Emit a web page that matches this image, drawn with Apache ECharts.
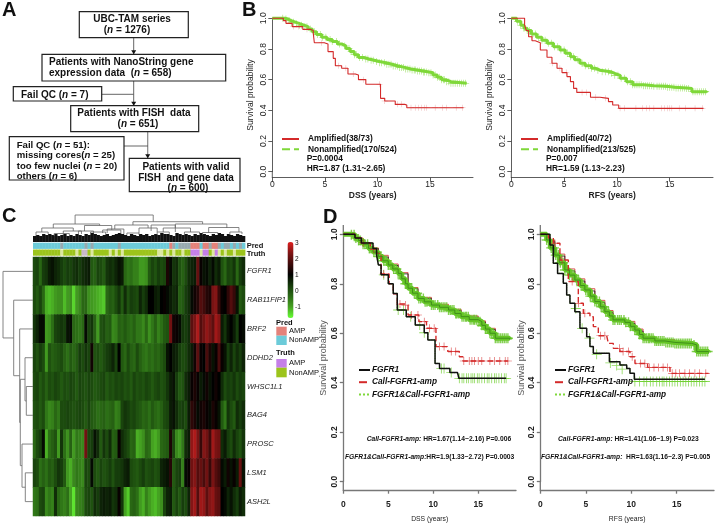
<!DOCTYPE html>
<html><head><meta charset="utf-8">
<style>html,body{margin:0;background:#fff}#c{width:717px;height:528px;filter:blur(.5px)}</style>
<script src="https://cdn.jsdelivr.net/npm/echarts@6/dist/echarts.min.js"></script>
</head><body><div id="c"></div>
<script>
const FF='Liberation Sans', NF='Liberation Sans';
const C_RED='#d42a2a',C_GRN='#7fd83a',C_BLK='#111';

/* ---- Panel B, DSS ---- */
const b1Amp=[[0,1],[1.05,.985],[1.3,.967],[1.9,.946],[2.9,.928],[3.6,.92],[3.9,.902],[4,.841],[4.95,.833],[5.3,.783],[5.8,.739],[6,.691],[6.6,.674],[7.2,.637],[7.9,.63],[8.2,.6],[8.9,.57],[10.3,.478],[10.7,.461],[11.7,.439],[12.6,.435],[12.8,.417],[18.2,.417]];
const b1AmpCensor=[2,2.5,3.3,4.7,6.3,7,7.7,8.7,10.2,10.7,11.9,12.3,13.2,13.6,13.9,14.2,14.5,14.7,15.5,16.2,16.6,17.5,18.1];
const b1Non=[[0,1],[1.2,.995],[1.5,.985],[1.8,.975],[2.2,.965],[2.6,.955],[3,.945],[3.4,.93],[3.8,.912],[4.2,.895],[4.7,.876],[5.2,.862],[5.7,.848],[6.2,.833],[6.6,.82],[7,.803],[7.4,.783],[7.8,.762],[8.2,.745],[8.7,.735],[9.2,.727],[9.7,.718],[10.2,.71],[10.8,.7],[11.4,.689],[12,.68],[12.6,.67],[13.2,.663],[13.8,.656],[14.4,.65],[14.9,.645],[15.3,.63],[15.7,.615],[16.1,.6],[16.5,.587],[17,.576],[18.5,.572]];
const b1NonCensor=[1,1.3,1.6,1.8,2,2.3,2.6,2.8,3.1,3.3,3.6,4,4.3,4.6,4.8,5.1,5.5,5.7,6.1,6.4,6.9,7.3,7.5,7.8,8,8.3,8.6,8.9,9.1,9.4,9.6,9.9,10.2,10.4,10.7,10.9,11.1,11.3,11.5,11.7,11.9,12.1,12.3,12.5,12.7,12.9,13.1,13.3,13.5,13.6,13.8,14,14.2,14.4,14.5,14.7,14.9,15.1,15.3,15.5,15.7,15.9,16.1,16.3,16.4,16.6,16.8,17,17.2,17.4,17.6,17.8,18,18.2,18.4];
/* ---- Panel B, RFS ---- */
const b2Amp=[[0,1],[1.26,.957],[1.42,.92],[1.64,.88],[1.96,.854],[2.27,.841],[2.75,.793],[3.38,.746],[3.85,.707],[4.33,.674],[4.8,.646],[5.27,.62],[5.6,.587],[5.9,.543],[6.2,.517],[7.5,.485],[8.4,.478],[9.2,.457],[9.6,.435],[10.17,.413],[18.2,.413]];
const b2AmpCensor=[1.9,3.9,4.6,5.2,6.7,7.1,8,8.9,10.3,10.7,11.8,12.4,12.8,13.1,13.5,14.2,14.5,14.8,15,15.2,15.9,16.5,17.4,18.1];
const b2Non=[[0,1],[.5,.98],[.9,.955],[1.2,.935],[1.5,.92],[1.9,.897],[2.4,.876],[2.9,.857],[3.4,.837],[4,.815],[4.6,.793],[5.1,.772],[5.6,.75],[6,.73],[6.5,.707],[7,.69],[7.6,.674],[8,.662],[8.4,.652],[9.4,.641],[9.8,.628],[10.3,.609],[10.9,.587],[11.5,.567],[12.5,.56],[13.5,.557],[14.7,.55],[15.5,.546],[16.6,.542],[17.1,.522],[18.5,.517]];
const b2NonCensor=[.6,.9,1.2,1.5,1.7,2,2.3,2.6,2.9,3.2,3.5,3.8,4.1,4.4,4.7,5,5.3,5.6,5.9,6.3,6.7,7,7.3,7.6,7.9,8.2,8.6,8.9,9.2,9.5,9.8,10.1,10.4,10.7,11,11.3,11.5,11.7,11.9,12.1,12.3,12.5,12.7,12.9,13.1,13.3,13.5,13.8,14,14.2,14.4,14.6,14.8,15,15.2,15.4,15.6,15.8,16,16.2,16.4,16.6,16.8,17.2,17.4,17.6,17.8,18,18.2,18.4];
/* ---- Panel D, DSS ---- */
const d1BlkAmp=[[0,1],[1.3,.985],[2,.965],[3.3,.943],[3.7,.916],[3.9,.876],[4.2,.836],[5,.8],[5.55,.761],[6,.694],[7,.667],[8,.633],[9,.602],[9.4,.573],[10.2,.478],[10.7,.458],[11.85,.441],[12.7,.438],[12.85,.418],[18.1,.418]];
const d1RedAmp=[[0,1],[1.3,.985],[2,.965],[3,.94],[3.7,.923],[4.2,.84],[5.1,.8],[5.55,.76],[6,.718],[6.85,.714],[7.2,.674],[8.4,.647],[9.25,.62],[10.3,.546],[11.5,.539],[11.65,.526],[12.9,.505],[13.3,.488],[18.3,.488]];
const d1RedCensor=[2.2,3.4,4.5,6.3,6.9,7.6,8.3,9,9.6,10.1,10.7,11.2,12,12.5,13.4,14,14.3,14.6,15,15.4,16.3,16.8,17.4,18,18.3];
const d1GrnCensorLow=[4.5,6.1,6.7,7.5,8.5,9,10.9,11.2,12,12.9,13.2,13.4,13.7,13.9,14.2,14.4,14.6,14.9,15.1,15.4,15.7,16,16.2,16.5,16.8,17,17.3,17.6,17.9,18.1];
const d1Non=[[0,1],[.9,.998],[1.3,.985],[1.7,.975],[2.2,.96],[2.8,.943],[3.3,.928],[3.9,.91],[4.4,.893],[5,.876],[5.5,.86],[6.1,.842],[6.5,.82],[6.9,.8],[7.2,.782],[7.7,.762],[8.3,.741],[9,.727],[9.8,.714],[10.7,.705],[11.7,.694],[12.4,.68],[13.1,.667],[14,.655],[15,.647],[15.4,.632],[15.8,.617],[16.3,.6],[16.9,.58],[18.5,.575]];
const d1RedNon=[[0,1],[1.3,.985],[2.2,.965],[3,.945],[3.9,.915],[5,.88],[6.1,.845],[7.2,.785],[8.3,.745],[9.8,.717],[11.7,.697],[13.1,.67],[15,.65],[15.8,.62],[16.9,.582],[18.5,.578]];
const d1BlkNon=[[0,1],[1.3,.98],[2.2,.96],[3,.942],[3.9,.908],[5,.874],[6.1,.84],[7.2,.78],[8.3,.74],[9.8,.712],[11.7,.692],[13.1,.665],[15,.645],[15.8,.615],[16.9,.578],[18.5,.574]];
const d1NonCensor=[.9,1.2,1.4,1.7,1.9,2.2,2.4,2.7,2.9,3.1,3.4,3.7,3.9,4.2,4.5,4.8,5,5.3,5.6,5.9,6.1,6.3,6.6,6.9,7.1,7.4,7.6,7.9,8.2,8.4,8.6,8.9,9.1,9.3,9.6,9.8,10,10.2,10.5,10.7,10.9,11.1,11.3,11.5,11.7,11.9,12.1,12.3,12.5,12.6,12.8,13,13.2,13.4,13.6,13.7,13.9,14.1,14.3,14.5,14.6,14.8,15,15.2,15.4,15.6,15.8,16,16.1,16.3,16.5,16.7,16.9,17.1,17.3,17.5,17.7,17.9,18.1,18.3];
/* ---- Panel D, RFS ---- */
const d2BlkAmp=[[0,1],[1.06,.957],[1.43,.883],[1.9,.842],[2.53,.802],[2.9,.755],[3.26,.721],[3.8,.687],[4.36,.62],[5.1,.586],[5.46,.546],[5.83,.519],[7.6,.485],[8.76,.472],[9.5,.458],[9.86,.438],[10.34,.414],[18.1,.414]];
const d2GrnAmp=[[0,1],[3.9,.7],[4.6,.62],[5.4,.58],[6.2,.515],[7.6,.48],[8.4,.47],[9,.455],[10.4,.405],[18.2,.405]];
const d2RedAmp=[[0,1],[.9,.985],[1.43,.964],[2.16,.896],[3.08,.809],[4.18,.721],[4.73,.681],[5.46,.667],[5.83,.627],[6.38,.59],[7.3,.586],[7.48,.559],[8.03,.539],[8.76,.526],[9.86,.505],[10.41,.478],[11.8,.462],[14.26,.438],[18.5,.438]];
const d2RedCensor=[1.6,2.4,3.5,4.2,4.9,6.6,7.1,8.7,9.1,9.7,10.1,11,11.5,12,12.5,13,13.5,14,14.5,14.9,15.3,15.9,16.4,17,17.5,18.2];
const d2GrnCensorLow=[3.9,4.6,5.4,6.2,7.7,8.4,9,10.4,10.9,11.4,11.7,12.1,12.4,12.8,13.1,13.4,13.6,13.9,14.2,14.5,14.8,15.1,15.4,15.7,16,16.3,16.6,16.9,17.2,17.5,17.8,18.1];
const d2Non=[[0,1],[.7,.977],[1.1,.945],[1.6,.916],[2.1,.885],[2.7,.856],[3.2,.835],[3.8,.815],[4.4,.793],[4.9,.775],[5.5,.75],[6,.728],[6.6,.707],[7.1,.687],[7.6,.67],[8,.654],[9.3,.644],[9.9,.628],[10.4,.613],[10.9,.595],[11.3,.58],[12.6,.569],[13.7,.563],[14.8,.559],[16.65,.553],[17.2,.526],[18.5,.523]];
const d2RedNon=[[0,1],[.8,.975],[1.6,.92],[2.7,.86],[3.8,.82],[4.9,.78],[6,.733],[7.1,.692],[8,.659],[9.3,.648],[10.4,.617],[11.3,.585],[12.6,.574],[14.8,.563],[16.65,.557],[17.2,.53],[18.5,.52]];
const d2BlkNon=[[0,1],[.7,.97],[1.6,.912],[2.7,.852],[3.8,.811],[4.9,.771],[6,.724],[7.1,.683],[8,.65],[9.3,.64],[10.4,.609],[11.3,.576],[12.6,.565],[14.8,.555],[16.65,.549],[17.2,.522],[18.5,.518]];
const d2NonCensor=[.7,1,1.2,1.5,1.7,2,2.2,2.5,2.7,3,3.2,3.5,3.7,4,4.2,4.5,4.7,5,5.2,5.5,5.7,6,6.2,6.5,6.7,7,7.2,7.5,7.7,8,8.2,8.5,8.7,8.9,9.2,9.4,9.7,9.9,10.2,10.4,10.6,10.9,11.1,11.3,11.5,11.7,11.9,12,12.2,12.4,12.6,12.8,13,13.2,13.4,13.6,13.8,14,14.2,14.4,14.6,14.8,15,15.2,15.4,15.6,15.8,16,16.2,16.4,16.6,16.9,17.2,17.4,17.6,17.8,18,18.2,18.4];

/* ---- Panel C ---- */
const genes=['FGFR1','RAB11FIP1','BRF2','DDHD2','WHSC1L1','BAG4','PROSC','LSM1','ASH2L'];
const hFGFR1=[.1,.2,-.3,.3,.4,.7,.8,.6,.5,.3,.1,.3,.2,.4,.5,.3,.5,.6,.7,-.1,-.2,.2,.1,-.1,.4,.5,.4,.6,.8,.7,-.3,-.5,-.4,-.6,-.6,-.9,-.9,-.8,-.1,.2,0,.3,.1,.2,1.3,.9,.4,.5,0,-.2,.1,.5,.6,.7,2.1,1.1,.8,.9,.6,.9,.5,.7,0,-.3,.2,.1,.4,-.3,.3,.5];
const hRAB11FIP1=[.1,-.1,.2,-.3,-1.1,-1.2,-1.1,-.9,-.8,-.8,-1.2,-.9,-.8,-1.4,-.9,-.7,-.3,-.3,-.8,-.9,-1,-1.1,-1.2,-1.3,-.3,-.1,-.2,.1,.4,-.1,.5,0,.3,.2,.1,.6,.3,.5,1,1,.7,.6,1,1.1,.9,.7,.5,.6,-.2,-.1,.3,.5,.9,1.2,1.4,1.9,1.7,1.4,1.3,2.3,2.4,1.6,1.1,1,1.5,1.9,1.6,.8,-.1,.1];
const hBRF2=[.4,.6,.9,.9,-.9,-.8,-.4,.2,.3,.4,.3,.8,.9,-.3,-.4,-.5,-.3,.9,.2,.4,-.2,-.9,0,.1,-.2,-.1,-.7,-.6,-.2,-.3,-.1,-.3,-.4,-.2,-.5,-.5,-.7,-.3,-.8,-.5,-.2,-.6,-.4,-.1,0,2.2,1.2,1.1,.9,.4,.3,.5,2,2.3,2.7,1.9,2.2,2.5,2.3,2,2.6,2.4,.7,.4,.8,1,.7,.3,1,.9];
const hDDHD2=[.2,0,.3,.1,-.9,0,-.2,-.1,0,.1,-.2,-.4,-.1,-.3,-.1,.3,.1,.4,.2,1.2,0,.1,-.1,.1,.3,.4,.6,.2,1,-.1,-.3,.1,-.2,-.3,.1,-.2,-.4,-.5,-.3,-.4,-.2,-.3,-.1,.1,.8,1,.7,.6,.3,.1,.2,.5,.7,1.2,2,1.1,1,1.8,1.3,.8,1.1,1.8,1.1,.8,.3,.6,.2,.5,.3,.6];
const hWHSC1L1=[.1,.2,-.1,.1,-.2,.1,0,.2,.1,-.1,.1,0,.2,.1,-.1,.2,.1,0,.2,.1,-.1,0,.1,.2,-.1,.1,0,.2,.1,.2,0,.1,-.1,.2,0,.1,0,.2,.1,-.1,.1,.2,0,.1,.4,.7,.8,.3,-.1,0,.5,.7,1.1,1.3,1.1,.7,.9,1.2,.8,1,1.2,1,.5,.1,.3,.2,.4,.1,.3,.2];
const hBAG4=[0,.1,-.1,.1,-.5,-.7,-.6,-.3,-.5,.1,.1,.2,.1,0,.1,.2,.1,-.1,.2,-.1,-.2,-.4,-.3,-.2,-.4,-.3,-.2,-.6,-.5,.2,.4,.3,.1,.2,0,-.1,-.3,-.2,-.4,-.1,-.3,-.4,-.2,.1,.2,.7,.8,.5,.2,.3,.1,.7,1.5,1.3,.9,1.2,1.3,1.1,.9,1.3,1.1,.8,-.1,-.5,.4,.1,-.1,.5,.3,.5];
const hPROSC=[-.3,.1,.3,.9,-1.1,-.4,-.2,0,-.9,.4,-.4,-.8,-.2,-.9,-.5,-.6,-.7,2.2,.2,.3,.8,.5,-.1,.4,.1,.5,-.2,-.1,1.1,.5,.3,.1,-.3,-.2,-1.1,-1,-.8,-.3,-.4,-1,-1.1,-.9,-.3,-.2,-.1,1.3,.2,-.7,-.9,-.5,.5,.7,2.5,2.7,2.3,1.6,2.4,2.2,1.7,2.6,2.3,2.2,.5,.7,.3,.1,.5,.2,0,.4];
const hLSM1=[.2,.1,-.4,-.2,-.4,-.1,-.2,.1,.4,.3,-.1,-.9,-1.1,-.7,-.5,-.6,-.7,.2,.1,.9,.1,-.1,.2,0,.1,.3,0,.3,.3,.4,.6,.7,.1,0,-.1,.1,.3,0,.1,.2,0,.1,.6,.7,.8,1.4,-.1,.2,.3,-.6,.9,1.1,2.2,2.4,1.9,2.1,1.8,2.2,1.6,2.3,1.9,1.7,.9,.7,1.2,.8,1.1,.7,2.1,.8];
const hASH2L=[-.5,-.4,.1,.2,-.7,-.5,-.6,.5,-.3,-.5,-.6,-.4,-1,-1.5,-.7,-.6,-.5,.1,.2,0,.5,.3,.6,.7,.6,.7,.4,.5,1.1,.4,-1,-1.3,-.3,-.2,-.4,-.9,-1.1,-.6,-.9,-1.1,-1.2,-1,-.8,.2,.6,.7,-.1,.2,-.1,.3,.1,.6,2.4,2.6,1.9,2.6,2.5,2,2.4,2.5,2.1,2,1,.9,.6,.8,.5,.3,.7,.5];
const heatRows=[hFGFR1,hRAB11FIP1,hBRF2,hDDHD2,hWHSC1L1,hBAG4,hPROSC,hLSM1,hASH2L];
const predStrip=[0,0,0,0,0,0,0,0,0,2,0,0,0,0,0,0,0,2,0,2,0,0,0,0,0,0,0,0,2,0,0,0,0,0,0,0,0,0,0,0,0,0,0,0,0,1,2,0,2,2,2,2,1,1,1,0,1,1,2,1,1,2,0,2,2,0,2,0,2,0];
const truthStrip=[0,0,0,0,0,0,0,0,0,3,0,0,0,0,3,0,4,4,0,3,0,0,0,0,0,3,0,3,0,3,0,0,0,0,0,0,0,0,0,0,0,3,3,0,3,0,3,0,0,3,0,0,1,1,1,3,1,1,0,3,1,3,0,3,0,0,3,0,0,0];
const colTufts=[6,7,6,8,7,8,7,8,6,7,8,6,7,6,8,7,6,8,7,9,8,7,6,7,8,6,7,8,9,8,7,6,8,7,6,8,7,8,6,7,8,7,9,8,8,7,6,9,8,7,8,7,6,8,7,9,8,7,6,8,7,9,8,6,8,7,6,8,7,6];
const colMerges=[[13.9,39.7,27,18,20.3],[6.7,22,18,14,16.5],[2.9,13.3,14,10,11],[17,26,16.5,11,12],[1,5,10,6,8],[10,16,11,7,8],[15,20,11,8,9],[23,29,12,9,8],[33,56,20.3,17,18],[27,38,17,13,14],[24.5,30,13,9,8],[35,41,14,9,10],[39,47,17,11,10],[47,64,18,14,14],[43,52,14,10,10],[58,68,14.5,9,10],[41,45,10,7,8],[50,55,10,7,8],[56,61,9.5,7,8],[65,69,10,7,8],[7,12,8.5,6,7],[31,35,9,7,7],[19,24,10,7,7]];
const rowMerges=[[6.7,4,5],[8,3,9],[7.7,7,8],[11,6,11],[12.7,10,12],[13.3,2,13],[19.3,1,14],[30,0,15]];
const colorbarTicks=[3,2,1,0,-1];

/* ---- Axis ticks ---- */
const xTicks=[0,5,10,15], yTicks=[0,.2,.4,.6,.8,1];

const stepAt=(c,t)=>{let s=c[0][1];for(const p of c){if(p[0]<=t)s=p[1];else break}return s};
const marks=(c,ts)=>ts.map(t=>[t,stepAt(c,t)]);
const PLUS='path://M4.6 0h.8v10h-.8zM0 4.6h10v.8H0z';
const PLUSB='path://M4.3 0h1.4v10h-1.4zM0 4.3h10v1.4H0z';
const grid=[],xAxis=[],yAxis=[],series=[];
function km(name,l,r,t,b,xn,xmax,o){
 const i=grid.length;
 grid.push({left:l,width:r-l,top:t,height:b-t});
 const lc=o.axisColor;
 const lab={color:'#222',fontFamily:o.lf,fontSize:o.ls,fontWeight:o.lw};
 xAxis.push({type:'value',gridIndex:i,min:0,max:xmax,offset:o.off,splitLine:{show:false},name:xn,nameLocation:'middle',nameGap:o.xg,
  nameTextStyle:{color:'#222',fontFamily:o.nf,fontSize:o.ns,fontWeight:o.nw},
  axisLine:{show:true,onZero:false,lineStyle:{color:lc,width:o.aw}},axisTick:{show:true,length:o.tl,customValues:xTicks,lineStyle:{color:lc,width:o.aw}},
  axisLabel:{...lab,margin:o.xm,customValues:xTicks,formatter:v=>String(v)}});
 yAxis.push({type:'value',gridIndex:i,min:0,max:1,interval:.2,splitLine:{show:false},name:'Survival probability',nameLocation:'middle',nameRotate:90,nameGap:o.yg,
  nameTextStyle:{color:o.yc,fontFamily:o.yf,fontSize:o.ys},
  axisLine:{show:true,onZero:false,lineStyle:{color:lc,width:o.aw}},axisTick:{show:true,length:o.tl,lineStyle:{color:lc,width:o.aw}},
  axisLabel:{...lab,rotate:90,margin:o.ym,formatter:v=>v.toFixed(1)}});
 return i;
}
function line(g,name,c,color,w,type,z){series.push({type:'line',name,xAxisIndex:g,yAxisIndex:g,data:c,step:'end',symbol:'circle',showSymbol:false,clip:false,silent:true,animation:false,z:z||3,lineStyle:{color,width:w,type:type||'solid'},itemStyle:{color}})}
function cens(g,name,c,ts,color,size,z,sym){series.push({type:'scatter',name,xAxisIndex:g,yAxisIndex:g,data:marks(c,ts),symbol:sym||PLUS,symbolSize:size,clip:false,silent:true,animation:false,z:z||4,itemStyle:{color}})}

const bOpt={axisColor:'#333',aw:.8,off:6,tl:4,lf:FF,ls:8.5,lw:'normal',nf:FF,ns:8.5,nw:'bold',yf:FF,ys:8.5,yc:'#222',xg:13,xm:2,yg:17,ym:4};
const g0=km('b1',272.3,473,18.3,171.7,'DSS (years)',19.1,bOpt);
const g1=km('b2',511.3,713,18.3,171.7,'RFS (years)',19.1,bOpt);
const dOpt={axisColor:'#777',aw:1.3,off:8.5,tl:3.5,lf:NF,ls:8.5,lw:'bold',nf:NF,ns:6.8,nw:'normal',yf:NF,ys:9,yc:'#555',xg:25,xm:9.5,yg:15,ym:4};
const g2=km('d1',343.3,516,234.3,481.7,'DSS (years)',19.2,dOpt);
const g3=km('d2',540.3,714,234.3,481.7,'RFS (years)',19.1,{...dOpt,yg:13});

line(g0,'Amplified(38/73)',b1Amp,C_RED,1.1,'solid',5);
cens(g0,'a',b1Amp,b1AmpCensor,'#e59a9a',6,4);
line(g0,'Nonamplified(170/524)',b1Non,C_GRN,1,'dashed',2);
line(g0,'nb',b1Non,C_GRN,3,'solid',3);
cens(g0,'n',b1Non,b1NonCensor,C_GRN,7,4);
line(g1,'Amplified(40/72)',b2Amp,C_RED,1.1,'solid',5);
cens(g1,'a',b2Amp,b2AmpCensor,'#e59a9a',6,4);
line(g1,'Nonamplified(213/525)',b2Non,C_GRN,1,'dashed',2);
line(g1,'nb',b2Non,C_GRN,3,'solid',3);
cens(g1,'n',b2Non,b2NonCensor,C_GRN,7,4);

line(g2,'Call-FGFR1-amp',d1RedAmp,C_RED,1.4,'dashed',5);
cens(g2,'ra',d1RedAmp,d1RedCensor,C_RED,8,5);
line(g2,'FGFR1&Call-FGFR1-amp',d1BlkAmp,C_GRN,1.2,'dotted',2);
cens(g2,'ga',d1BlkAmp,d1GrnCensorLow,'#6fd02f',10,3);
line(g2,'FGFR1',d1BlkAmp,C_BLK,1.5,'solid',6);
line(g2,'rn',d1RedNon,C_RED,.8,'solid',2);
line(g2,'kn',d1BlkNon,C_BLK,.8,'solid',2);
line(g2,'gb',d1Non,'#66c528',5,'solid',3);
cens(g2,'gn',d1Non,d1NonCensor,'#66c528',10,4,PLUSB);
line(g2,'gl',d1Non,'#3f8f1a',1,'solid',5);

line(g3,'Call-FGFR1-amp',d2RedAmp,C_RED,1.4,'dashed',5);
cens(g3,'ra',d2RedAmp,d2RedCensor,C_RED,8,5);
line(g3,'FGFR1&Call-FGFR1-amp',d2BlkAmp,C_GRN,1.2,'dotted',2);
cens(g3,'ga',d2GrnAmp,d2GrnCensorLow,'#6fd02f',10,3);
line(g3,'FGFR1',d2BlkAmp,C_BLK,1.5,'solid',6);
line(g3,'rn',d2RedNon,C_RED,.8,'solid',2);
line(g3,'kn',d2BlkNon,C_BLK,.8,'solid',2);
line(g3,'gb',d2Non,'#66c528',5,'solid',3);
cens(g3,'gn',d2Non,d2NonCensor,'#66c528',10,4,PLUSB);
line(g3,'gl',d2Non,'#3f8f1a',1,'solid',5);

/* heatmap */
const gH=grid.length;
grid.push({left:33,width:212,top:257,height:259});
xAxis.push({type:'category',gridIndex:gH,data:heatRows[0].map((_,i)=>i),show:false});
yAxis.push({type:'category',gridIndex:gH,data:genes,inverse:true,position:'right',axisLine:{show:false},axisTick:{show:false},splitLine:{show:false},
 axisLabel:{margin:2,color:'#222',fontStyle:'italic',fontFamily:NF,fontSize:7.5}});
const heatIdx=series.length;
series.push({type:'heatmap',xAxisIndex:gH,yAxisIndex:gH,silent:true,animation:false,progressive:0,
 data:heatRows.flatMap((r,y)=>r.map((v,x)=>[x,y,v]))});

/* annotation strips */
const gS=grid.length;
grid.push({left:33,width:212,top:242.7,height:13.6});
xAxis.push({type:'value',gridIndex:gS,min:0,max:70,show:false});
yAxis.push({type:'value',gridIndex:gS,min:0,max:2,show:false});
const predColors=['#6ccbd9','#e4827a','#97aab0'],truthColors=['#9cc41c','#c57fe8','','#dbe6a0','#c8b8c8'];
series.push({type:'custom',xAxisIndex:gS,yAxisIndex:gS,silent:true,animation:false,
 data:[...predStrip.map((v,i)=>[i,1,v]),...truthStrip.map((v,i)=>[i,0,v])],
 renderItem(p,api){const x=api.value(0),r=api.value(1),v=api.value(2);const a=api.coord([x,r+1]),b=api.coord([x+1,r]);
  return {type:'rect',shape:{x:a[0],y:a[1],width:b[0]-a[0]+.4,height:b[1]-a[1]-.6},style:{fill:r?predColors[v]:truthColors[v]}}}});

/* column dendrogram */
const gCD=grid.length;
grid.push({left:33,width:212,top:215,height:27});
xAxis.push({type:'value',gridIndex:gCD,min:0,max:70,show:false});
yAxis.push({type:'value',gridIndex:gCD,min:0,max:27,show:false});
series.push({type:'custom',xAxisIndex:gCD,yAxisIndex:gCD,silent:true,animation:false,data:colTufts.map((v,i)=>[i,v]),
 renderItem(p,api){const a=api.coord([api.value(0),api.value(1)]),b=api.coord([api.value(0)+1,0]);
  return {type:'rect',shape:{x:a[0],y:a[1],width:b[0]-a[0]+.3,height:b[1]-a[1]},style:{fill:'#111'}}}});
series.push({type:'custom',xAxisIndex:gCD,yAxisIndex:gCD,silent:true,animation:false,clip:false,data:colMerges,
 renderItem(p,api){const v=i=>api.value(i);
  return {type:'polyline',shape:{points:[api.coord([v(0),v(3)]),api.coord([v(0),v(2)]),api.coord([v(1),v(2)]),api.coord([v(1),v(4)])]},style:{stroke:'#666',fill:null,lineWidth:.8}}}});

/* row dendrogram */
const gRD=grid.length;
grid.push({left:2,width:31,top:257,height:259});
xAxis.push({type:'value',gridIndex:gRD,min:0,max:31,inverse:true,show:false});
yAxis.push({type:'value',gridIndex:gRD,min:0,max:9,inverse:true,show:false});
const nodeY=genes.map((_,i)=>i+.5),nodeH=genes.map(()=>0);
rowMerges.forEach(m=>{nodeY.push((nodeY[m[1]]+nodeY[m[2]])/2);nodeH.push(m[0])});
series.push({type:'custom',xAxisIndex:gRD,yAxisIndex:gRD,silent:true,animation:false,clip:false,
 data:rowMerges.map(m=>[nodeH[m[1]],nodeY[m[1]],m[0],nodeH[m[2]],nodeY[m[2]]]),
 renderItem(p,api){const v=i=>api.value(i);
  return {type:'polyline',shape:{points:[api.coord([v(0),v(1)]),api.coord([v(2),v(1)]),api.coord([v(2),v(4)]),api.coord([v(3),v(4)])]},style:{stroke:'#777',fill:null,lineWidth:.9}}}});

/* graphic: flow chart, annotations */
const els=[];
function rich(str,fam,size,weight){
 const parts=str.split('_');
 const text=parts.map((s,i)=>s?`{${i%2?'i':'b'}|${s}}`:'').join('');
 const base={fontFamily:fam,fontSize:size,fontWeight:weight,fill:'#111'};
 return {text,rich:{b:base,i:{...base,fontStyle:'italic'}}};
}
function T(x,y,str,o={}){els.push({type:'text',silent:true,z:20,style:{x,y,align:o.a||'left',verticalAlign:'middle',...rich(str,o.f||FF,o.s||10,o.w||'bold')}})}
function box(x0,y0,x1,y1){els.push({type:'rect',silent:true,z:10,shape:{x:x0,y:y0,width:x1-x0,height:y1-y0},style:{fill:'#fff',stroke:'#222',lineWidth:1.2}})}
function seg(x0,y0,x1,y1,c,w){els.push({type:'line',silent:true,z:9,shape:{x1:x0,y1:y0,x2:x1,y2:y1},style:{stroke:c||'#555',lineWidth:w||.9}})}
function arrow(x,y){els.push({type:'polygon',silent:true,z:11,shape:{points:[[x-2.5,y-4],[x+2.5,y-4],[x,y]]},style:{fill:'#111'}})}
seg(133.7,37.7,133.7,54.3);arrow(133.7,54.3);
seg(133.7,81,133.7,105.7);seg(101.7,94.3,133.7,94.3);arrow(133.7,105.7);
seg(147.7,131.7,147.7,158.3,'#888',1.2);seg(124,146,148,146);arrow(147.7,158.3);
box(79.3,11.7,188.3,37.7);T(132,19.5,'UBC-TAM series',{a:'center'});T(127,30.3,'(_n_ = 1276)',{a:'center'});
box(42,54.3,225.7,81);T(49,62.3,'Patients with NanoString gene');T(49,73.5,'expression data  (_n_ = 658)');
box(13.3,86.7,101.7,101);T(21,95,'Fail QC (_n_ = 7)');
box(70.7,105.7,198.7,131.7);T(134,113.3,'Patients with FISH  data',{a:'center'});T(138,124.3,'(_n_ = 651)',{a:'center'});
box(9.3,136.7,124,180);
T(16.7,145,'Fail QC (_n_ = 51):',{s:9.6});T(16.7,155.7,'missing cores(_n_ = 25)',{s:9.6});T(16.7,165.9,'too few nuclei (_n_ = 20)',{s:9.6});T(16.7,176,'others (_n_ = 6)',{s:9.6});
box(129.3,158.3,240,191.7);T(186,166.8,'Patients with valid',{a:'center'});T(186,177.8,'FISH  and gene data',{a:'center'});T(188,188.5,'(_n_ = 600)',{a:'center'});
[['A',2,10],['B',242,10.5],['C',2,216],['D',323,217]].forEach(p=>T(p[1],p[2],p[0],{s:20}));
/* axis extensions */
const ax=(x,y0,y1,c,w)=>els.push({type:'line',silent:true,z:2,shape:{x1:x,y1:y0,x2:x,y2:y1},style:{stroke:c,lineWidth:w}});
ax(272.3,171.7,177.7,'#333',.8);ax(511.3,171.7,177.7,'#333',.8);
ax(343.3,225,234.3,'#777',1.3);ax(343.3,481.7,490.2,'#777',1.3);ax(540.3,225,234.3,'#777',1.3);ax(540.3,481.7,490.2,'#777',1.3);
/* B annotations */
T(306.7,158.8,'P=0.0004',{s:8.4});T(306.7,168.5,'HR=1.87 (1.31~2.65)',{s:8.4});
T(546,158.8,'P=0.007',{s:8.4});T(546,168.5,'HR=1.59 (1.13~2.23)',{s:8.4});
/* D annotations */
const NS=6.7;
T(366.7,439.3,'_Call-FGFR1-amp:_ HR=1.67(1.14~2.16) P=0.006',{f:NF,s:NS});
T(345,457,'_FGFR1&Call-FGFR1-amp:_HR=1.9(1.33~2.72) P=0.0003',{f:NF,s:NS});
T(558,439.3,'_Call-FGFR1-amp:_ HR=1.41(1.06~1.9) P=0.023',{f:NF,s:NS});
T(541,457,'_FGFR1&Call-FGFR1-amp:_  HR=1.63(1.16~2.3) P=0.005',{f:NF,s:NS});
/* heat legend */
const sw=(y0,y1,c)=>els.push({type:'rect',silent:true,z:10,shape:{x:276.3,y:y0,width:10.4,height:y1-y0},style:{fill:c}});
T(246.7,246,'Pred',{s:7.5});T(246.7,253.8,'Truth',{s:7.5});
T(276,323,'Pred',{s:7.5});sw(326.7,335.7,predColors[1]);sw(335.7,345,predColors[0]);T(289,331,'AMP',{s:7.5,w:'normal'});T(289,340,'NonAMP',{s:7.5,w:'normal'});
T(276,353.3,'Truth',{s:7.5});sw(359,367.7,truthColors[1]);sw(367.7,377.3,truthColors[0]);T(289,363.3,'AMP',{s:7.5,w:'normal'});T(289,372.7,'NonAMP',{s:7.5,w:'normal'});
colorbarTicks.forEach(v=>T(295,291-v*16,String(v),{s:6.5,w:'normal'}));

const lg=(left,top,names,o)=>({left,top,orient:'vertical',data:names,selectedMode:false,itemWidth:o.iw,itemHeight:o.ih,itemGap:o.g,padding:0,
 itemStyle:{opacity:0},
 textStyle:{color:'#111',fontFamily:o.f,fontSize:o.s,fontWeight:'bold',fontStyle:o.st||'normal',padding:[0,0,0,o.p||0]}});
const bL={iw:17,ih:6,g:2.2,f:FF,s:8.4,p:4};
const dL={iw:11,ih:8,g:4.2,f:NF,s:8.3,st:'italic',p:-3};
const dNames=['FGFR1','Call-FGFR1-amp','FGFR1&Call-FGFR1-amp'];

const chart=echarts.init(document.getElementById('c'),null,{renderer:'canvas'});
chart.setOption({animation:false,backgroundColor:'#fff',grid,xAxis,yAxis,series,
 tooltip:{show:false},
 legend:[lg(281,135,['Amplified(38/73)','Nonamplified(170/524)'],bL),lg(520,135,['Amplified(40/72)','Nonamplified(213/525)'],bL),
  lg(358,366,dNames,dL),lg(554,366,dNames,dL)],
 visualMap:{type:'continuous',seriesIndex:heatIdx,min:-1.7,max:3.05,left:287.5,top:242,itemWidth:6,itemHeight:76,padding:0,calculable:false,realtime:false,hoverLink:false,
  inRange:{color:['#66ff33','#46a322','#2a6a15','#153a0b','#000000','#3f0a0a','#801414','#e02020']}},
 graphic:{elements:els}});
</script></body></html>
